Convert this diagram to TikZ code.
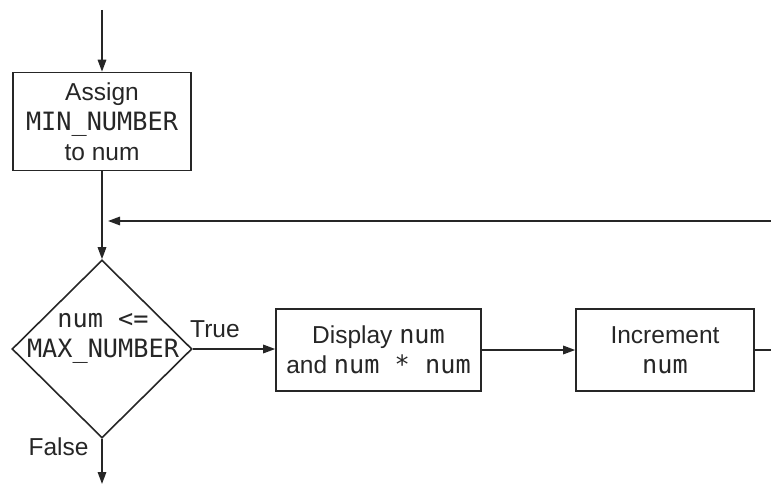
\documentclass[tikz,border=0pt]{standalone}
\usepackage{fontspec}
\setmainfont{Liberation Sans}
\setmonofont[Scale=1.03]{DejaVu Sans Mono}
\usetikzlibrary{arrows.meta,shapes.geometric}
\definecolor{ink}{gray}{0.15}
\begin{document}
\begin{tikzpicture}[x=1pt,y=-1pt,
  line/.style={draw=ink, line width=1.6pt},
  arr/.style={line, -{Triangle[length=12pt,width=8.5pt]}},
  txt/.style={font=\fontsize{24.5}{30}\selectfont, text=ink, inner sep=0pt},
  box/.style={txt, draw=ink, line width=1.6pt, align=center},
  mono/.style={txt, align=center, font=\fontsize{24.5}{30}\selectfont\ttfamily}]
\path[use as bounding box] (0,0) rectangle (771,489);

\node[box, minimum width=178pt, minimum height=98pt] (assign) at (102,121.5)
  {Assign\\\texttt{MIN\_NUMBER}\\to num};
\node[draw=ink, line width=1.6pt, diamond, minimum width=180pt, minimum height=178pt, inner sep=0pt] (dec) at (102,349) {};
\node[mono] (cond) at (103,338) {num <=\\MAX\_NUMBER};
\node[box, minimum width=205pt, minimum height=82pt] (disp) at (378.5,350)
  {Display \texttt{num}\\and \texttt{num * num}};
\node[box, minimum width=178pt, minimum height=82pt] (inc) at (665,350)
  {Increment\\\texttt{num}};

\node[txt, anchor=west] (true) at (190,329) {True};
\node[txt] (false) at (58.5,447) {False};

\coordinate (in) at (102,10);
\coordinate (out) at (102,484);
\coordinate (exitR) at (771,350);
\coordinate (loopR) at (771,221);
\coordinate (loopL) at (108,221);

\draw[arr] (in) -- (assign.north);
\draw[arr] (assign.south) -- (dec.north);
\draw[arr] (dec.east) -- (disp.west |- dec.east);
\draw[arr] (disp.east) -- (inc.west);
\draw[line] (inc.east) -- (exitR);
\draw[arr] (loopR) -- (loopL);
\draw[arr] (dec.south) -- (out);
\end{tikzpicture}
\end{document}
